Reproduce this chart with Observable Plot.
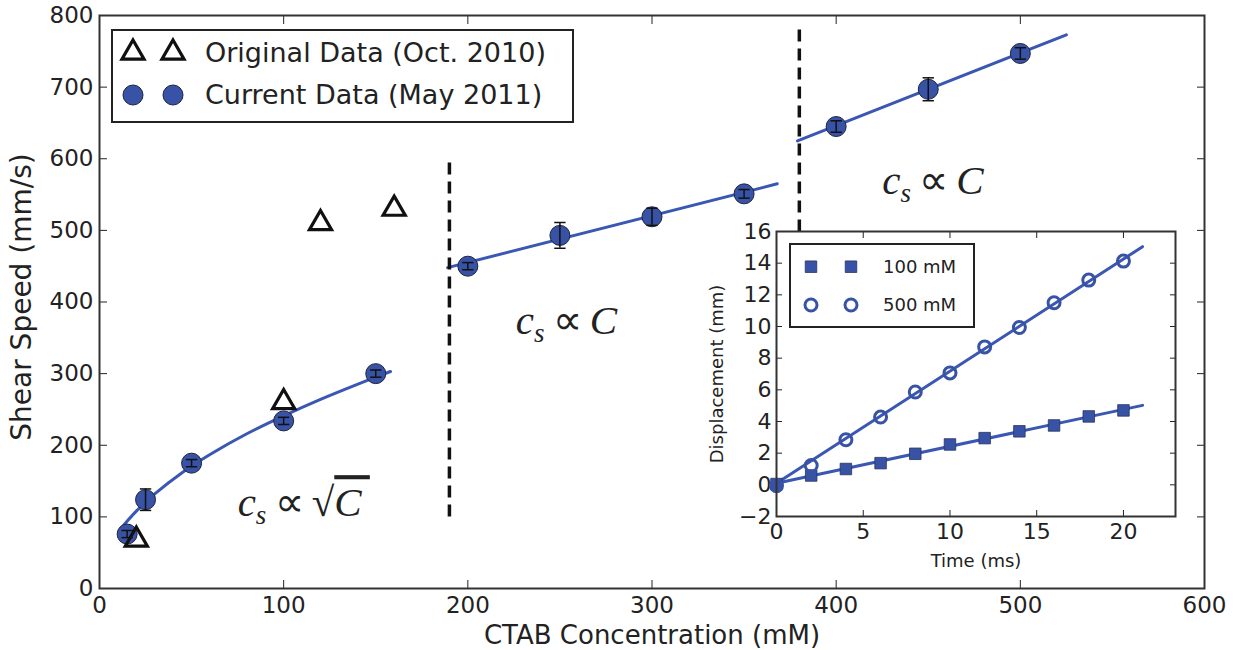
<!DOCTYPE html>
<html>
<head>
<meta charset="utf-8">
<script src="https://cdn.jsdelivr.net/npm/d3@7"></script>
<script src="https://cdn.jsdelivr.net/npm/@observablehq/plot@0.6"></script>
<style>
  body { margin: 0; background: #fff; }
  #wrap { position: relative; width: 1243px; height: 650px; overflow: hidden; }
  #wrap svg { position: absolute; }
</style>
</head>
<body>
<div id="wrap"></div>
<script>
// ---- Main chart data ----
const xTicks = [0, 100, 200, 300, 400, 500, 600];
const yTicks = [0, 100, 200, 300, 400, 500, 600, 700, 800];

const origConc = [20, 100, 120, 160];
const origSpeed = [68, 260, 510, 530];

const curConc  = [15, 25, 50, 100, 150, 200, 250, 300, 350, 400, 450, 500];
const curSpeed = [76, 124, 175, 234, 300, 450, 493, 519, 551, 645, 697, 747];
const curErr   = [5, 15, 5, 5, 5, 5, 18, 12, 6, 8, 16, 8];

// fitted curves
const fitSqrtX = [12, 20, 30, 45, 60, 80, 100, 120, 140, 158];
const fitSqrtY = [85, 108, 132, 162, 187, 216, 241, 264, 285, 303];
const fitMidX = [189, 368];
const fitMidY = [448, 565];
const fitHighX = [379, 525];
const fitHighY = [625, 773];

// regime boundaries (dashed)
const boundX  = [190, 380];
const boundY1 = [100, 100];
const boundY2 = [600, 782];

// annotations
const annX = [75, 226, 425];
const annY = [101, 356, 551];
const annKind = ["sqrt", "lin", "lin"];

const legendLabels = ["Original Data (Oct. 2010)", "Current Data (May 2011)"];
const xLabel = "CTAB Concentration (mM)";
const yLabel = "Shear Speed (mm/s)";

// ---- Inset data ----
const insetXTicks = [0, 5, 10, 15, 20];
const insetYTicks = [-2, 0, 2, 4, 6, 8, 10, 12, 14, 16];
const time = [0, 2, 4, 6, 8, 10, 12, 14, 16, 18, 20];
const disp100 = [0.05, 0.59, 1.0, 1.37, 1.96, 2.55, 2.95, 3.38, 3.75, 4.32, 4.7];
const disp500 = [-0.05, 1.22, 2.85, 4.28, 5.86, 7.07, 8.71, 9.94, 11.5, 12.93, 14.13];
const fitT = [0, 21.1];
const fit100 = [0.1, 5.02];
const fit500 = [0.1, 15.04];
const insetLegend = ["100 mM", "500 mM"];
const insetXLabel = "Time (ms)";
const insetYLabel = "Displacement (mm)";

// ---- styles ----
const BLUE = "#3853a6";
const LINEBLUE = "#3a57b4";
const INK = "#222";
const minusFmt = d => d < 0 ? "\u2212" + (-d) : String(d);

const capSymbol = { draw(ctx, size) { const w = Math.sqrt(size); ctx.moveTo(-w, 0); ctx.lineTo(w, 0); } };

const orig = origConc.map((x, i) => ({x, y: origSpeed[i]}));
const cur = curConc.map((x, i) => ({x, y: curSpeed[i], e: curErr[i]}));
const sqrtFit = fitSqrtX.map((x, i) => ({x, y: fitSqrtY[i]}));
const midFit = fitMidX.map((x, i) => ({x, y: fitMidY[i]}));
const highFit = fitHighX.map((x, i) => ({x, y: fitHighY[i]}));
const bounds = boundX.map((x, i) => ({x, y1: boundY1[i], y2: boundY2[i]}));
const ann = annX.map((x, i) => ({x, y: annY[i], k: annKind[i]}));

const main = Plot.plot({
  width: 1243,
  height: 650,
  marginLeft: 99,
  marginRight: 39,
  marginTop: 15,
  marginBottom: 62,
  style: {fontFamily: "DejaVu Sans", fontSize: "24px", color: INK, background: "transparent"},
  x: {domain: [0, 600]},
  y: {domain: [0, 800]},
  marks: [
    Plot.axisX({anchor: "bottom", ticks: xTicks, tickSize: 0, tickPadding: 8, label: null, fontSize: 23}),
    Plot.axisY({anchor: "left", ticks: yTicks, tickSize: 0, tickPadding: 6, label: null, fontSize: 23}),
    Plot.axisX({anchor: "bottom", ticks: xTicks, tickSize: -8, tickFormat: () => "", label: null}),
    Plot.axisX({anchor: "top", ticks: xTicks, tickSize: -8, tickFormat: () => "", label: null}),
    Plot.axisY({anchor: "left", ticks: yTicks, tickSize: -8, tickFormat: () => "", label: null}),
    Plot.axisY({anchor: "right", ticks: yTicks, tickSize: -8, tickFormat: () => "", label: null}),
    Plot.line(sqrtFit, {x: "x", y: "y", stroke: LINEBLUE, strokeWidth: 3, curve: "catmull-rom"}),
    Plot.line(midFit, {x: "x", y: "y", stroke: LINEBLUE, strokeWidth: 3}),
    Plot.line(highFit, {x: "x", y: "y", stroke: LINEBLUE, strokeWidth: 3}),
    Plot.ruleX(bounds, {x: "x", y1: "y1", y2: "y2", stroke: "#111", strokeWidth: 3.5, strokeDasharray: "12,7"}),
    Plot.dot(cur, {x: "x", y: "y", r: 10, fill: BLUE, stroke: "#1f2540", strokeWidth: 1}),
    Plot.ruleX(cur, {x: "x", y1: d => d.y - d.e, y2: d => d.y + d.e, stroke: "#111", strokeWidth: 1.5}),
    Plot.dot(cur, {x: "x", y: d => d.y - d.e, symbol: capSymbol, r: 3.2, stroke: "#111", strokeWidth: 1.5}),
    Plot.dot(cur, {x: "x", y: d => d.y + d.e, symbol: capSymbol, r: 3.2, stroke: "#111", strokeWidth: 1.5}),
    Plot.dot(orig, {x: "x", y: "y", symbol: "triangle", r: 8.2, stroke: "#111", strokeWidth: 3.2, fill: "none"}),
    Plot.text(ann, {x: "x", y: "y", text: "k", textAnchor: "start", lineAnchor: "bottom", fontSize: 41, fontFamily: "Liberation Serif", fill: INK}),
    Plot.text([xLabel], {text: d => d, frameAnchor: "bottom", textAnchor: "middle", lineAnchor: "middle", dy: 47, fontSize: 26, fill: INK}),
    Plot.text([yLabel], {text: d => d, frameAnchor: "left", textAnchor: "middle", lineAnchor: "middle", rotate: -90, dx: -77, dy: -5, fontSize: 28, fill: INK}),
    Plot.frame({stroke: "#333", strokeWidth: 2})
  ]
});
main.style.left = "0px";
main.style.top = "0px";
document.getElementById("wrap").appendChild(main);

// rich-text annotations
d3.select(main).selectAll("text").filter(function() {
  return this.textContent === "sqrt" || this.textContent === "lin";
}).each(function() {
  const kind = this.textContent;
  this.textContent = "";
  const t = d3.select(this);
  t.append("tspan").attr("font-style", "italic").text("c");
  t.append("tspan").attr("font-style", "italic").attr("font-size", 27).attr("dy", 8).text("s");
  t.append("tspan").attr("dy", -8).text("\u2009\u221D\u2009");
  if (kind === "sqrt") {
    t.append("tspan").text("\u221A");
    t.append("tspan").attr("font-style", "italic").attr("text-decoration", "overline").text("C\u2009");
  } else {
    t.append("tspan").attr("font-style", "italic").text("C");
  }
});

// main legend
{
  const g = d3.select(main).append("g").attr("text-anchor", "start");
  g.append("rect").attr("x", 112).attr("y", 30).attr("width", 461).attr("height", 92)
    .attr("fill", "white").attr("stroke", INK).attr("stroke-width", 2);
  const rows = [52.7, 95];
  const tri = d3.symbol(d3.symbolTriangle, Math.PI * 8.2 * 8.2)();
  [133, 173].forEach(cx => {
    g.append("path").attr("d", tri).attr("transform", `translate(${cx},${rows[0]})`)
      .attr("fill", "none").attr("stroke", "#111").attr("stroke-width", 3.2);
    g.append("circle").attr("cx", cx).attr("cy", rows[1]).attr("r", 10)
      .attr("fill", BLUE).attr("stroke", "#1f2540").attr("stroke-width", 1);
  });
  legendLabels.forEach((s, i) => {
    g.append("text").attr("x", 205).attr("y", rows[i]).attr("dy", "0.35em")
      .attr("text-anchor", "start")
      .attr("font-family", "DejaVu Sans").attr("font-size", 27).attr("fill", INK).text(s);
  });
}

// ---- inset ----
const s100 = time.map((t, i) => ({t, d: disp100[i]}));
const s500 = time.map((t, i) => ({t, d: disp500[i]}));
const f100 = fitT.map((t, i) => ({t, d: fit100[i]}));
const f500 = fitT.map((t, i) => ({t, d: fit500[i]}));

const inset = Plot.plot({
  width: 485,
  height: 350,
  marginLeft: 76,
  marginRight: 10,
  marginTop: 10,
  marginBottom: 55,
  style: {fontFamily: "DejaVu Sans", fontSize: "22px", color: INK, background: "transparent", overflow: "visible"},
  x: {domain: [0, 23]},
  y: {domain: [-2, 16]},
  marks: [
    Plot.frame({fill: "white"}),
    Plot.axisX({anchor: "bottom", ticks: insetXTicks, tickSize: 0, tickPadding: 7, label: null, fontSize: 22}),
    Plot.axisY({anchor: "left", ticks: insetYTicks, tickSize: 0, tickPadding: 5, tickFormat: minusFmt, label: null, fontSize: 22}),
    Plot.axisX({anchor: "bottom", ticks: insetXTicks, tickSize: -6, tickFormat: () => "", label: null}),
    Plot.axisX({anchor: "top", ticks: insetXTicks, tickSize: -6, tickFormat: () => "", label: null}),
    Plot.axisY({anchor: "left", ticks: insetYTicks, tickSize: -6, tickFormat: () => "", label: null}),
    Plot.axisY({anchor: "right", ticks: insetYTicks, tickSize: -6, tickFormat: () => "", label: null}),
    Plot.line(f100, {x: "t", y: "d", stroke: LINEBLUE, strokeWidth: 3}),
    Plot.line(f500, {x: "t", y: "d", stroke: LINEBLUE, strokeWidth: 3}),
    Plot.dot(s100, {x: "t", y: "d", symbol: "square", r: 6.5, fill: BLUE, stroke: "#2a3360", strokeWidth: 0.8}),
    Plot.dot(s500, {x: "t", y: "d", r: 6, fill: "white", fillOpacity: 0, stroke: BLUE, strokeWidth: 3}),
    Plot.text([insetXLabel], {text: d => d, frameAnchor: "bottom", textAnchor: "middle", lineAnchor: "middle", dy: 45, fontSize: 18, fill: INK}),
    Plot.text([insetYLabel], {text: d => d, frameAnchor: "left", textAnchor: "middle", lineAnchor: "middle", rotate: -90, dx: -59, fontSize: 18, fill: INK}),
    Plot.frame({stroke: "#333", strokeWidth: 2})
  ]
});
inset.style.left = "700px";
inset.style.top = "221px";
document.getElementById("wrap").appendChild(inset);

// inset legend
{
  const g = d3.select(inset).append("g").attr("transform", "translate(-700,-221)").attr("text-anchor", "start");
  g.append("rect").attr("x", 790).attr("y", 244).attr("width", 184).attr("height", 83)
    .attr("fill", "white").attr("stroke", INK).attr("stroke-width", 2);
  const rows = [266.7, 305];
  const sq = d3.symbol(d3.symbolSquare, Math.PI * 6.5 * 6.5)();
  [811, 851].forEach(cx => {
    g.append("path").attr("d", sq).attr("transform", `translate(${cx},${rows[0]})`)
      .attr("fill", BLUE).attr("stroke", "#2a3360").attr("stroke-width", 0.8);
    g.append("circle").attr("cx", cx).attr("cy", rows[1]).attr("r", 6)
      .attr("fill", "none").attr("stroke", BLUE).attr("stroke-width", 3);
  });
  insetLegend.forEach((s, i) => {
    g.append("text").attr("x", 883).attr("y", rows[i]).attr("dy", "0.35em")
      .attr("text-anchor", "start")
      .attr("font-family", "DejaVu Sans").attr("font-size", 18).attr("fill", INK).text(s);
  });
}
</script>
</body>
</html>
